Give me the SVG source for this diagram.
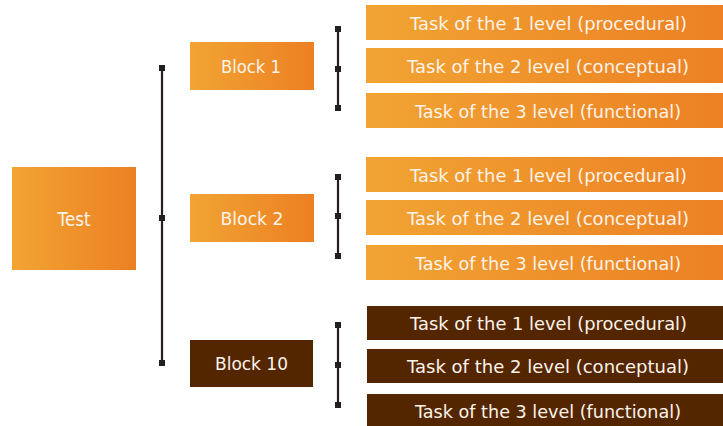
<svg xmlns="http://www.w3.org/2000/svg" width="723" height="426" viewBox="0 0 723 426">
  <defs>
    <linearGradient id="og" x1="0" y1="0" x2="1" y2="0">
      <stop offset="0" stop-color="#F1A433"/>
      <stop offset="1" stop-color="#EC8023"/>
    </linearGradient>
    <style>
      .o { fill: url(#og); }
      .b { fill: #532600; }
      .t { font-family: "DejaVu Sans", "Liberation Sans", sans-serif; fill: #FDF3EA; text-anchor: middle; }
      .tk { font-size: 17px; }
      .bl { font-size: 18px; }
      .ln { stroke: #231F20; stroke-width: 2.2; fill: none; }
      .mk { fill: #231F20; }
    </style>
  </defs>
  <rect width="723" height="426" fill="#FFFFFF"/>

  <g id="connectors">
    <line class="ln" x1="162" y1="68" x2="162" y2="363"/>
    <rect class="mk" x="159" y="65" width="6" height="6"/>
    <rect class="mk" x="159" y="215" width="6" height="6"/>
    <rect class="mk" x="159" y="360" width="6" height="6"/>

    <line class="ln" x1="338" y1="29" x2="338" y2="108"/>
    <rect class="mk" x="335" y="26" width="6" height="6"/>
    <rect class="mk" x="335" y="66" width="6" height="6"/>
    <rect class="mk" x="335" y="105" width="6" height="6"/>

    <line class="ln" x1="338" y1="177" x2="338" y2="256"/>
    <rect class="mk" x="335" y="174" width="6" height="6"/>
    <rect class="mk" x="335" y="213" width="6" height="6"/>
    <rect class="mk" x="335" y="253" width="6" height="6"/>

    <line class="ln" x1="338" y1="325" x2="338" y2="405"/>
    <rect class="mk" x="335" y="322" width="6" height="6"/>
    <rect class="mk" x="335" y="362" width="6" height="6"/>
    <rect class="mk" x="335" y="402" width="6" height="6"/>
  </g>

  <g id="test">
    <rect class="o" x="12" y="167" width="124" height="103"/>
    <text class="t" x="74" y="226" font-size="20" textLength="33" lengthAdjust="spacingAndGlyphs">Test</text>
  </g>

  <g id="block1">
    <rect class="o" x="190" y="42" width="124" height="48"/>
    <text class="t bl" x="251" y="73" textLength="60" lengthAdjust="spacingAndGlyphs">Block 1</text>
  </g>
  <g id="block2">
    <rect class="o" x="190" y="194" width="124" height="48"/>
    <text class="t bl" x="252" y="224.5" textLength="63" lengthAdjust="spacingAndGlyphs">Block 2</text>
  </g>
  <g id="block10">
    <rect class="b" x="190" y="340" width="123" height="47"/>
    <text class="t bl" x="251.5" y="370" textLength="73" lengthAdjust="spacingAndGlyphs">Block 10</text>
  </g>

  <g id="b1-task1">
    <rect class="o" x="366" y="5" width="357" height="35"/>
    <text class="t tk" x="548.5" y="29.5" textLength="277" lengthAdjust="spacingAndGlyphs">Task of the 1 level (procedural)</text>
  </g>
  <g id="b1-task2">
    <rect class="o" x="366" y="48" width="357" height="35"/>
    <text class="t tk" x="548" y="73" textLength="282" lengthAdjust="spacingAndGlyphs">Task of the 2 level (conceptual)</text>
  </g>
  <g id="b1-task3">
    <rect class="o" x="366" y="93" width="357" height="35"/>
    <text class="t tk" x="548" y="117.5" textLength="266" lengthAdjust="spacingAndGlyphs">Task of the 3 level (functional)</text>
  </g>

  <g id="b2-task1">
    <rect class="o" x="366" y="157" width="357" height="35"/>
    <text class="t tk" x="548.5" y="181.5" textLength="277" lengthAdjust="spacingAndGlyphs">Task of the 1 level (procedural)</text>
  </g>
  <g id="b2-task2">
    <rect class="o" x="366" y="200" width="357" height="35"/>
    <text class="t tk" x="548" y="224.5" textLength="282" lengthAdjust="spacingAndGlyphs">Task of the 2 level (conceptual)</text>
  </g>
  <g id="b2-task3">
    <rect class="o" x="366" y="245" width="357" height="35"/>
    <text class="t tk" x="548" y="269.5" textLength="266" lengthAdjust="spacingAndGlyphs">Task of the 3 level (functional)</text>
  </g>

  <g id="b10-task1">
    <rect class="b" x="367" y="306" width="356" height="34"/>
    <text class="t tk" x="548.5" y="330" textLength="277" lengthAdjust="spacingAndGlyphs">Task of the 1 level (procedural)</text>
  </g>
  <g id="b10-task2">
    <rect class="b" x="367" y="349" width="356" height="34"/>
    <text class="t tk" x="548" y="373" textLength="282" lengthAdjust="spacingAndGlyphs">Task of the 2 level (conceptual)</text>
  </g>
  <g id="b10-task3">
    <rect class="b" x="367" y="394" width="356" height="32"/>
    <text class="t tk" x="548" y="418" textLength="266" lengthAdjust="spacingAndGlyphs">Task of the 3 level (functional)</text>
  </g>
</svg>
